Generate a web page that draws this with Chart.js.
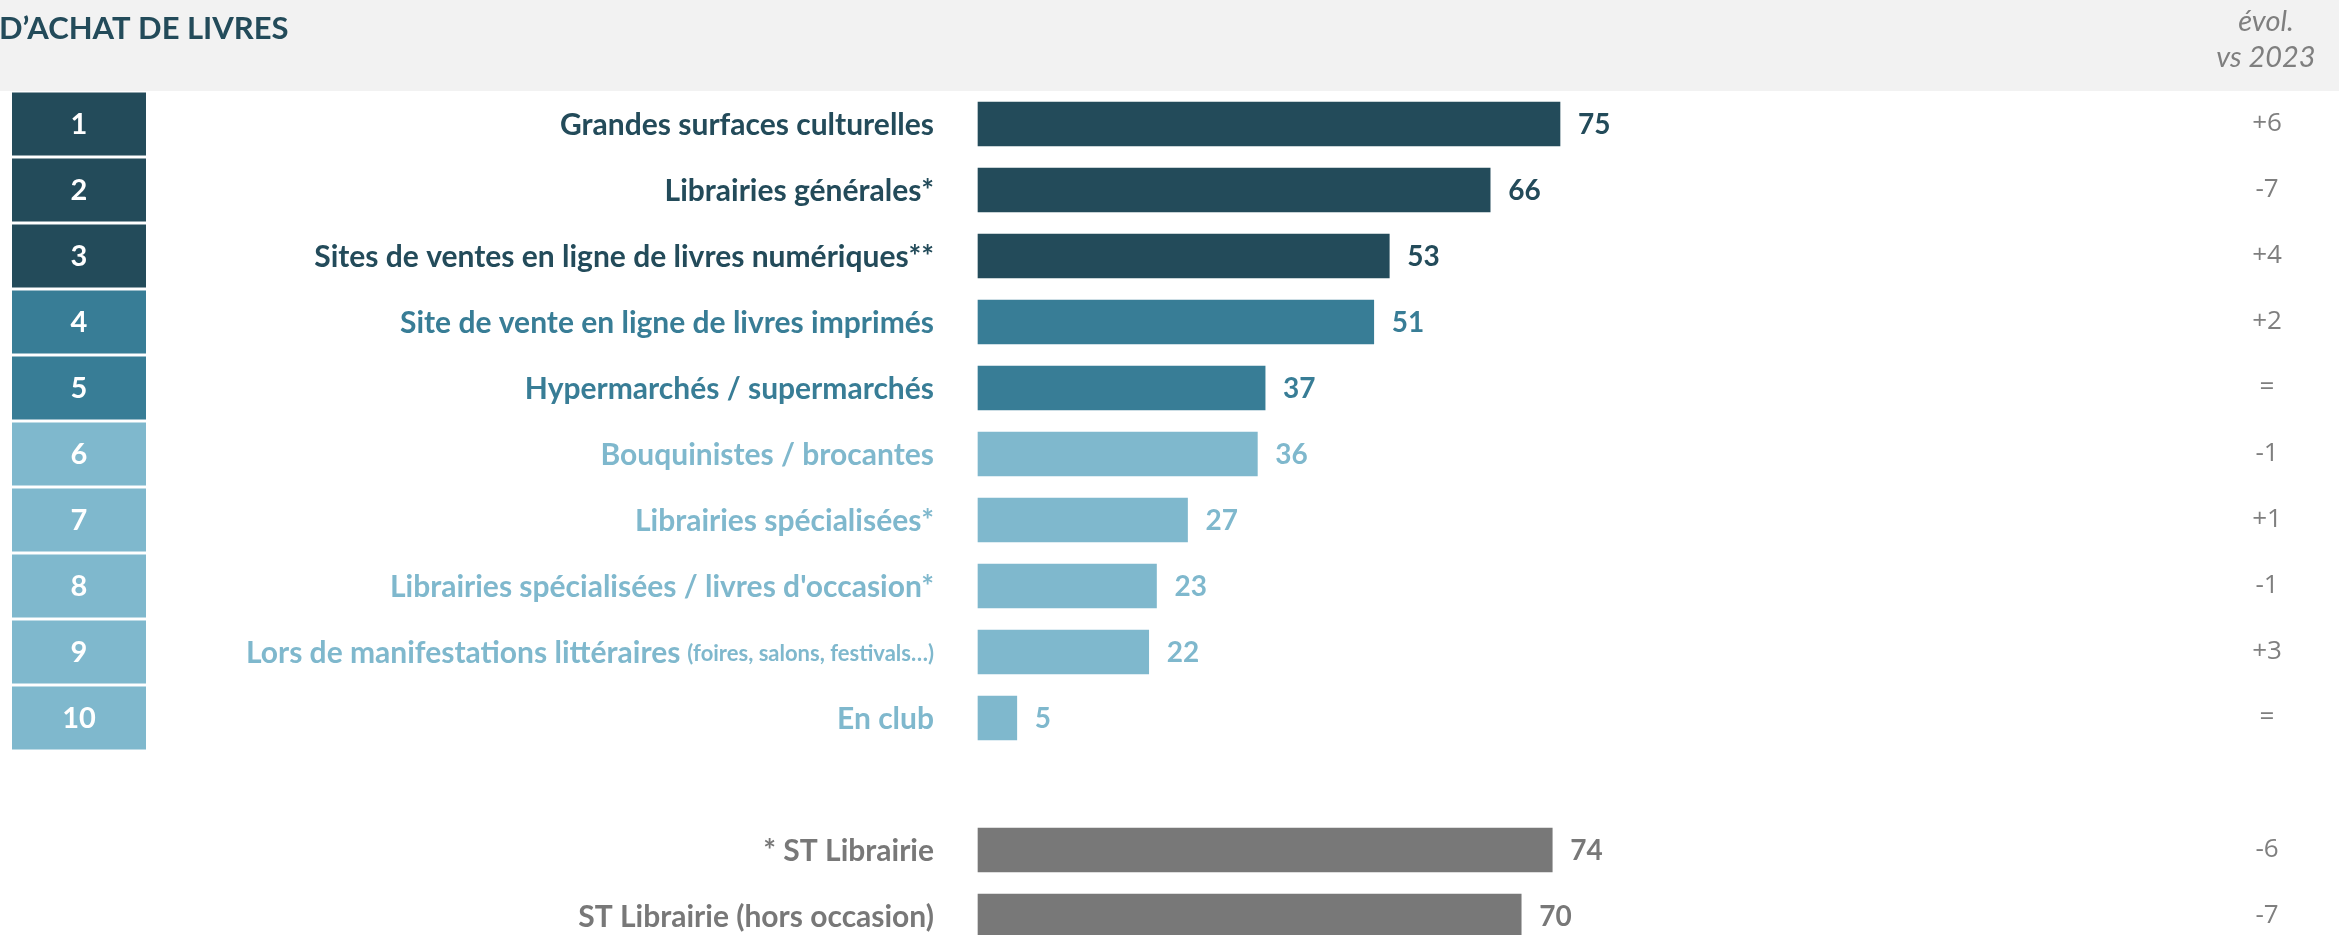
<!DOCTYPE html>
<html>
<head>
<meta charset="utf-8">
<script src="https://cdn.jsdelivr.net/npm/chart.js@4"></script>
<style>
  body { margin: 0; background: #fff; }
  canvas { display: block; }
</style>
</head>
<body>
<canvas id="chartCanvas" width="2339" height="935"></canvas>
<script>
// chart values
const categories = [
  "Grandes surfaces culturelles",
  "Librairies générales*",
  "Sites de ventes en ligne de livres numériques**",
  "Site de vente en ligne de livres imprimés",
  "Hypermarchés / supermarchés",
  "Bouquinistes / brocantes",
  "Librairies spécialisées*",
  "Librairies spécialisées / livres d'occasion*",
  "Lors de manifestations littéraires",
  "En club"
];
const notes = ["", "", "", "", "", "", "", "", "(foires, salons, festivals…)", ""];
const values = [75, 66, 53, 51, 37, 36, 27, 23, 22, 5];
const evolutions = ["+6", "-7", "+4", "+2", "=", "-1", "+1", "-1", "+3", "="];
const tiers = [0, 0, 0, 1, 1, 2, 2, 2, 2, 2];

const totalLabels = ["* ST Librairie", "ST Librairie (hors occasion)"];
const totalValues = [74, 70];
const totalEvolutions = ["-6", "-7"];

const titleText = "D’ACHAT DE LIVRES";
const evolHeader = ["évol.", "vs 2023"];

const tierColors = ["#234b5a", "#387d96", "#7fb8cd"];
const totalColor = "#787878";
const evolColor = "#7f7f7f";

// build rows: 10 ranked rows, one blank, then the totals
const rowLabels = categories.concat([""], totalLabels);
const rowValues = values.concat([null], totalValues);
const rowColors = tiers.map(t => tierColors[t]).concat(["#fff"], totalLabels.map(() => totalColor));
const rowEvol = evolutions.concat([""], totalEvolutions);

const decor = {
  id: "decor",
  beforeDraw(chart) {
    const ctx = chart.ctx;
    ctx.save();
    ctx.fillStyle = "#fff";
    ctx.fillRect(0, 0, chart.width, chart.height);
    // header band
    ctx.fillStyle = "#f2f2f2";
    ctx.fillRect(0, 0, chart.width, 91);
    ctx.fillStyle = tierColors[0];
    ctx.font = "bold 31px Lato";
    ctx.textBaseline = "middle";
    ctx.textAlign = "left";
    ctx.fillText(titleText, -1, 29);
    ctx.fillStyle = evolColor;
    ctx.font = "italic 29px Lato";
    ctx.textAlign = "center";
    ctx.fillText(evolHeader[0], 2266, 22);
    ctx.fillText(evolHeader[1], 2266, 58);
    ctx.restore();
  },
  afterDatasetsDraw(chart) {
    const ctx = chart.ctx;
    const yScale = chart.scales.y;
    const meta = chart.getDatasetMeta(0);
    ctx.save();
    ctx.textBaseline = "middle";
    rowLabels.forEach((label, i) => {
      if (rowValues[i] === null) return;
      const y = yScale.getPixelForValue(i);
      const color = rowColors[i];
      // rank box
      if (i < categories.length) {
        ctx.fillStyle = color;
        ctx.fillRect(12, y - 31.5, 134, 63);
        ctx.fillStyle = "#fff";
        ctx.font = "bold 29px Lato";
        ctx.textAlign = "center";
        ctx.fillText(String(i + 1), 79, y + 1);
      }
      // category label, right aligned
      ctx.fillStyle = color;
      ctx.textAlign = "right";
      let right = 934;
      const note = notes[i];
      if (note) {
        ctx.font = "bold 22px Lato";
        ctx.fillText(note, right, y + 2);
        right -= ctx.measureText(note).width + 7;
      }
      ctx.font = "bold 30px Lato";
      ctx.fillText(label, right, y + 1);
      // value label
      const bar = meta.data[i];
      ctx.textAlign = "left";
      ctx.font = "bold 28px Lato";
      ctx.fillText(String(rowValues[i]), bar.x + 18, y + 1);
      // evolution
      ctx.fillStyle = evolColor;
      ctx.font = "26px 'Open Sans'";
      ctx.textAlign = "center";
      ctx.fillText(rowEvol[i], 2267, y);
    });
    ctx.restore();
  }
};

new Chart(document.getElementById("chartCanvas"), {
  type: "bar",
  data: {
    labels: rowLabels,
    datasets: [{
      data: rowValues,
      backgroundColor: rowColors,
      borderWidth: 0,
      barThickness: 44,
      clip: false
    }]
  },
  options: {
    indexAxis: "y",
    responsive: false,
    animation: false,
    layout: { padding: { left: 978, right: 585, top: 124, bottom: 19 } },
    scales: {
      x: { display: false, min: 0, max: 100 },
      y: { display: false, offset: false }
    },
    plugins: {
      legend: { display: false },
      tooltip: { enabled: false }
    }
  },
  plugins: [decor]
});
</script>
</body>
</html>
